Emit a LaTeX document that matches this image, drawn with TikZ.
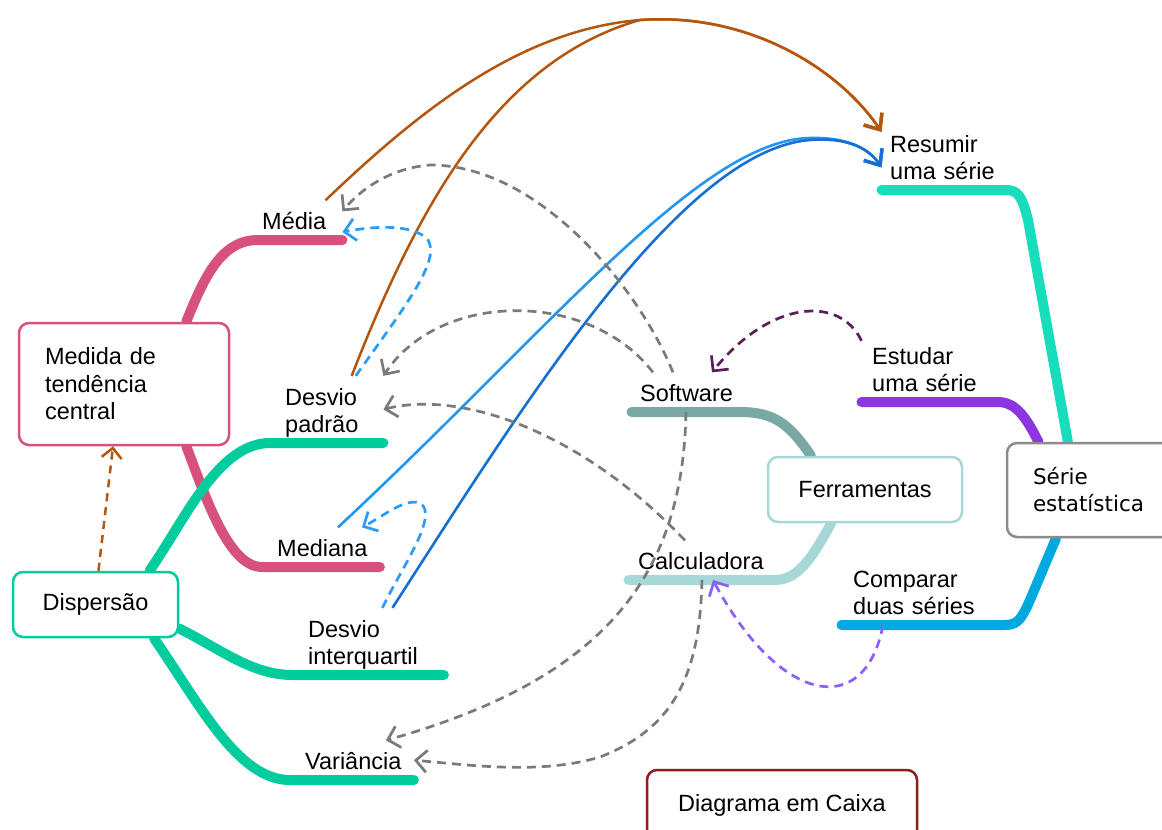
\documentclass[tikz,border=0pt]{standalone}
\usepackage{fontspec}
\setmainfont{Liberation Sans}
\newfontfamily\seriefont{DejaVu Sans}
\usetikzlibrary{arrows.meta,backgrounds}
\definecolor{rose}{HTML}{D6517D}
\definecolor{jade}{HTML}{00CC9E}
\definecolor{mint}{HTML}{17DDBC}
\definecolor{sage}{HTML}{7AA8A5}
\definecolor{frost}{HTML}{A8D7D7}
\definecolor{grape}{HTML}{8B36E0}
\definecolor{cyanb}{HTML}{00A9DE}
\definecolor{ash}{HTML}{8C8C8C}
\definecolor{wine}{HTML}{8A1F1F}
\definecolor{rust}{HTML}{B4560E}
\definecolor{sky}{HTML}{2196F3}
\definecolor{navyb}{HTML}{1670D2}
\definecolor{skyd}{HTML}{2B9CF6}
\definecolor{smoke}{HTML}{7A7A7A}
\definecolor{plum}{HTML}{5B1F57}
\definecolor{lilac}{HTML}{8B5EFF}
\newcommand{\lblfont}{\fontsize{23.5}{27.5}\selectfont}
\newcommand{\serfont}{\seriefont\fontsize{21.5}{27}\selectfont}
\newcommand{\tlines}[1]{\begin{tabular}[b]{@{}l@{}}#1\end{tabular}}
\tikzset{
  boxr/.style ={draw=rose,  line width=2.5pt, rounded corners=10pt, fill=white, inner sep=0pt, font=\lblfont},
  boxj/.style ={draw=jade,  line width=2.5pt, rounded corners=10pt, fill=white, inner sep=0pt, font=\lblfont},
  boxf/.style ={draw=frost, line width=2.5pt, rounded corners=10pt, fill=white, inner sep=0pt, font=\lblfont},
  boxa/.style ={draw=ash,   line width=2.5pt, rounded corners=10pt, fill=white, inner sep=0pt, font=\serfont, align=left},
  boxw/.style ={draw=wine,  line width=2.5pt, rounded corners=10pt, fill=white, inner sep=0pt, font=\lblfont},
  topic/.style={font=\lblfont, anchor=south west, align=left, inner ysep=10pt, text depth=0pt},
  brr/.style  ={draw=rose,  line width=10pt, line cap=round},
  brj/.style  ={draw=jade,  line width=10pt, line cap=round},
  brm/.style  ={draw=mint,  line width=10pt, line cap=round},
  brs/.style  ={draw=sage,  line width=10pt, line cap=round},
  brf/.style  ={draw=frost, line width=10pt, line cap=round},
  brv/.style  ={draw=grape, line width=10pt, line cap=round},
  brc/.style  ={draw=cyanb, line width=10pt, line cap=round},
  lnr/.style  ={draw=rust,  line width=2.5pt, -{Straight Barb[length=13pt,width=22pt,line width=3.4pt]}},
  lnb/.style  ={draw=sky,   line width=2.6pt, -{Straight Barb[length=13pt,width=22pt,line width=3.4pt]}},
  lnn/.style  ={draw=navyb, line width=2.6pt, -{Straight Barb[length=13pt,width=22pt,line width=3.4pt]}},
  lnd/.style  ={draw=smoke, line width=2.7pt, dash pattern=on 9pt off 6pt, -{Straight Barb[length=11pt,width=22pt,line width=2.7pt]}},
  lnbd/.style ={draw=skyd,  line width=2.7pt, dash pattern=on 9pt off 6pt, -{Straight Barb[length=11pt,width=22pt,line width=2.7pt]}},
  lnp/.style  ={draw=plum,  line width=2.7pt, dash pattern=on 9pt off 6pt, -{Straight Barb[length=11pt,width=22pt,line width=2.7pt]}},
  lnl/.style  ={draw=lilac, line width=2.7pt, dash pattern=on 9pt off 6pt, -{Straight Barb[length=11pt,width=22pt,line width=2.7pt]}},
  lnrd/.style ={draw=rust,  line width=2.5pt, dash pattern=on 8pt off 6pt, -{Straight Barb[length=10pt,width=20pt,line width=2.5pt]}},
}

\begin{document}
\begin{tikzpicture}[x=1pt,y=-1pt]
  \useasboundingbox (0,0) rectangle (1162,830);
  \clip (0,0) rectangle (1162,830);
  \node[boxr,text width=158pt,minimum width=210pt,minimum height=122pt,align=left] (medida) at (124,384)
    {Medida de\\tendência\\central};
  \node[boxj,minimum width=165pt,minimum height=65pt] (disp) at (95.5,604.5) {Dispersão};
  \node[boxf,minimum width=194pt,minimum height=65pt] (ferr) at (865,489.5) {Ferramentas};
  \node[boxa,text width=130pt,minimum width=182pt,minimum height=94pt] (serie) at (1098,490) {Série\\estatística};
  \node[boxw,minimum width=270pt,minimum height=70pt] (caixa) at (782,805) {Diagrama em Caixa};

  \node[topic,inner xsep=4pt,text width=76pt] (media) at (258,240) {\tlines{Média}};
  \node[topic,inner xsep=15pt,text width=83pt] (dp) at (270,443) {\tlines{Desvio\\padrão}};
  \node[topic,inner xsep=15pt,text width=87.5pt] (mediana) at (262,567) {\tlines{Mediana}};
  \node[topic,inner xsep=15pt,text width=120.5pt] (diq) at (293,675) {\tlines{Desvio\\interquartil}};
  \node[topic,inner xsep=15pt,text width=93.5pt] (variancia) at (290,780) {\tlines{Variância}};
  \node[topic,inner xsep=8.5pt,text width=91.5pt] (software) at (631.5,412) {\tlines{Software}};
  \node[topic,inner xsep=9.5pt,text width=127.5pt] (calc) at (628.5,580) {\tlines{Calculadora}};
  \node[topic,inner xsep=8.5pt,text width=106.5pt] (resumir) at (881.5,190) {\tlines{Resumir\\uma série}};
  \node[topic,inner xsep=10.5pt,text width=114.5pt] (estudar) at (861.5,402) {\tlines{Estudar\\uma série}};
  \node[topic,inner xsep=11.5pt,text width=140.5pt] (comparar) at (841.5,625) {\tlines{Comparar\\duas séries}};

  \begin{scope}[on background layer]
    \draw[brr] (medida.45) .. controls (205,275) and (222,240) .. (media.south west) -- (media.south east);
    \draw[brr] (medida.-45) .. controls (205,495) and (228,567) .. (mediana.south west) -- (mediana.south east);
    \draw[brj] (disp.32) .. controls (185,520) and (218,443) .. (dp.south west) -- (dp.south east);
    \draw[brj] (disp.-16) .. controls (222,650) and (252,675) .. (diq.south west) -- (diq.south east);
    \draw[brj] (disp.-30) .. controls (200,705) and (238,780) .. (variancia.south west) -- (variancia.south east);
    \draw[brs] (ferr.148) .. controls (790,425) and (775,412) .. (software.south east) -- (software.south west);
    \draw[brf] (ferr.-135) .. controls (815,552) and (800,580) .. (calc.south east) -- (calc.south west);
    \draw[brm] (serie.122) -- (1028,220) .. controls (1022,196) and (1018,190) .. (resumir.south east) -- (resumir.south west);
    \draw[brv] (serie.141) .. controls (1025,415) and (1015,402) .. (estudar.south east) -- (estudar.south west);
    \draw[brc] (serie.-131) -- (1030,600) .. controls (1022,618) and (1018,625) .. (comparar.south east) -- (comparar.south west);
  \end{scope}

  \draw[lnr] ([xshift=-17pt]media.north east) .. controls (420,110) and (520,30) .. (640,20)
    .. controls (750,12) and (840,70) .. ([yshift=-9pt]resumir.north west);
  \draw[lnr] ([xshift=25pt]dp.north) .. controls (420,200) and (500,60) .. (640,20)
    .. controls (750,12) and (840,70) .. ([yshift=-9pt]resumir.north west);
  \draw[lnb] ([xshift=17pt]mediana.north) .. controls (550,330) and (700,140) .. (810,138)
    .. controls (850,137) and (870,150) .. ([yshift=-11pt]resumir.west);
  \draw[lnn] ([xshift=24pt]diq.north) .. controls (520,410) and (680,150) .. (810,140)
    .. controls (850,137) and (870,150) .. ([yshift=-11pt]resumir.west);
  \draw[lnbd] ([xshift=29pt]dp.north) .. controls (410,300) and (440,260) .. (428,240)
    .. controls (415,225) and (380,225) .. ([yshift=8pt]media.south east);
  \draw[lnbd] ([xshift=14pt]diq.north) .. controls (400,570) and (440,515) .. (420,503)
    .. controls (405,498) and (385,515) .. ([xshift=41pt]mediana.north);
  \draw[lnd] ([xshift=-13pt]software.north) .. controls (640,290) and (540,165) .. (430,165)
    .. controls (390,168) and (360,190) .. ([yshift=-11pt]media.north east);
  \draw[lnd] ([xshift=-33pt]software.north) .. controls (590,290) and (440,290) .. (dp.north east);
  \draw[lnd] (software.south) .. controls (683,580) and (600,680) .. ([xshift=-28pt]variancia.north east);
  \draw[lnd] ([xshift=-17pt]calc.north) .. controls (580,430) and (460,390) .. (dp.east);
  \draw[lnd] (calc.south) .. controls (700,680) and (670,730) .. (600,757)
    .. controls (540,775) and (470,765) .. (variancia.east);
  \draw[lnp] ([yshift=-6pt]estudar.north west) .. controls (840,295) and (770,300) .. ([xshift=26pt]software.north);
  \draw[lnl] ([xshift=41.5pt]comparar.south west) .. controls (865,720) and (780,705) .. ([xshift=11pt]calc.south);
  \draw[lnrd] (disp.85) -- (medida.-100);
\end{tikzpicture}
\end{document}
